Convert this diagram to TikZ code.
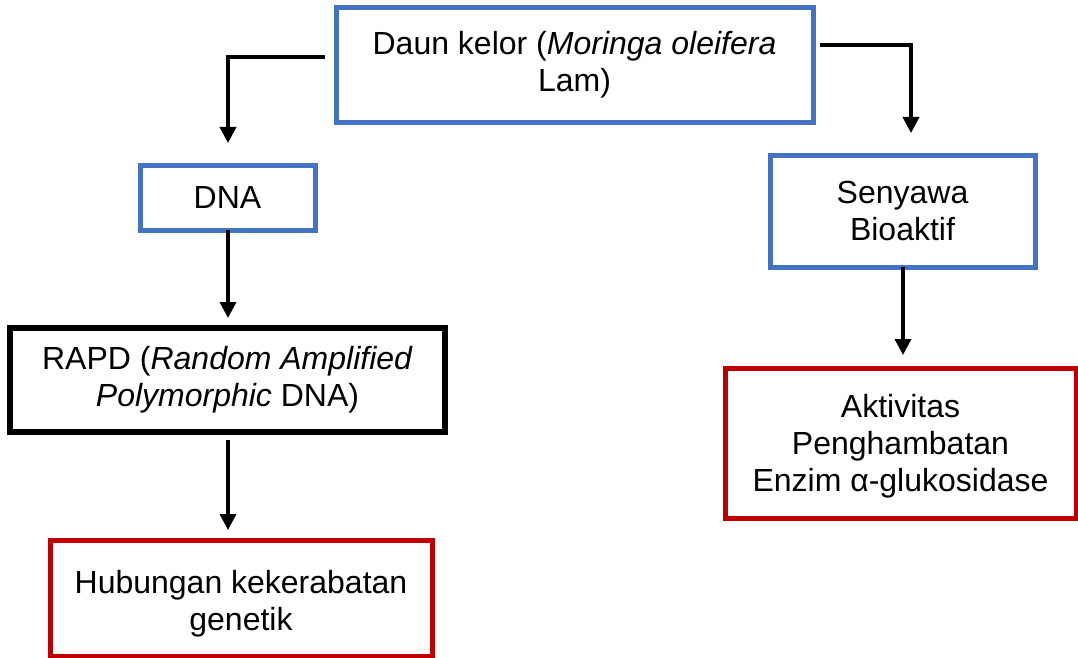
\documentclass[tikz,border=0pt]{standalone}
\usepackage{fontspec}
\setmainfont{Liberation Sans}
\usetikzlibrary{arrows.meta}
\definecolor{bblue}{HTML}{4472C4}
\definecolor{rred}{HTML}{C00000}
\begin{document}
\begin{tikzpicture}[x=1pt,y=1pt,
  txt/.style={align=center, inner sep=0pt, font=\fontsize{32}{37}\selectfont},
  box/.style={draw, rectangle, txt},
  bluebox/.style={box, draw=bblue, line width=5pt},
  redbox/.style={box, draw=rred, line width=5pt},
  blackbox/.style={box, draw=black, line width=6pt},
  conn/.style={line width=3.5pt, -{Triangle[width=16pt,length=16pt]}}]
\useasboundingbox (0,0) rectangle (1078,-658);
\node[bluebox, minimum width=477pt, minimum height=115pt] (top) at (574.5,-65.5) {};
\node[txt] (toptxt) at (574.5,-65) {Daun kelor (\textit{Moringa oleifera}\\Lam)};
\node[bluebox, minimum width=175pt, minimum height=65pt] (dna) at (227.5,-197.5) {DNA};
\node[blackbox, minimum width=435pt, minimum height=104pt] (rapd) at (227.5,-380) {RAPD (\textit{Random Amplified}\\\textit{Polymorphic} DNA)};
\node[redbox, minimum width=382pt, minimum height=116pt] (hub) at (241,-598) {};
\node[txt] (hubtxt) at (241,-604) {Hubungan kekerabatan\\genetik};
\node[bluebox, minimum width=265pt, minimum height=112pt] (sen) at (902.5,-211) {Senyawa\\Bioaktif};
\node[redbox, minimum width=351pt, minimum height=150pt] (akt) at (900.5,-443) {};
\node[txt] (akttxt) at (900.5,-446) {Aktivitas\\Penghambatan\\Enzim α-glukosidase};
\coordinate (ls) at (325,-57);
\coordinate (lt) at (228,-143);
\coordinate (rs) at (820,-45);
\coordinate (rt) at (911,-133);
\coordinate (ds) at (228,-230);
\coordinate (dt) at (228,-318);
\coordinate (hs) at (228,-440);
\coordinate (ht) at (228,-530);
\coordinate (ss) at (903,-267);
\coordinate (st) at (903,-355);
\draw[conn] (ls) -| (lt);
\draw[conn] (rs) -| (rt);
\draw[conn] (ds) -- (dt);
\draw[conn] (hs) -- (ht);
\draw[conn] (ss) -- (st);
\end{tikzpicture}
\end{document}
